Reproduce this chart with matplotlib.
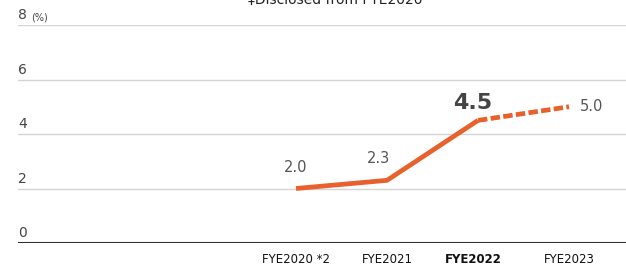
import matplotlib

matplotlib.use("Agg")

import matplotlib.pyplot as plt
import matplotlib.transforms as mtransforms

plt.rcParams["font.family"] = ["DejaVu Sans"]

years = ["FYE2020 *2", "FYE2021", "FYE2022", "FYE2023"]
values = [2.0, 2.3, 4.5, 5.0]
y_ticks = [0, 2, 4, 6, 8]

LINE_COLOR = "#E8602C"

fig = plt.figure(figsize=(6.26, 2.68), dpi=100)
ax = fig.add_axes([18 / 626, 25 / 268, 608 / 626, 218 / 268])
ax.set_xlim(-3.055, 3.626)
ax.set_ylim(0, 8)
ax.axis("off")

# gridlines, with the zero line drawn dark
for t in y_ticks:
    if t == 0:
        ax.axhline(t, color="#333333", linewidth=1.5, zorder=1)
    else:
        ax.axhline(t, color="#D4D4D4", linewidth=1.0, zorder=1)

trans = mtransforms.blended_transform_factory(ax.transAxes, ax.transData)
for t in y_ticks:
    ax.text(0.0, t + 0.1, str(t), transform=trans, ha="left", va="bottom",
            fontsize=10, color="#444444")
ax.text(0.022, 8.1, "(%)", transform=trans, ha="left", va="bottom",
        fontsize=7, color="#444444")

xs = list(range(len(years)))
# actual results solid, forecast dashed
ax.plot(xs[:3], values[:3], color=LINE_COLOR, linewidth=3.4,
        solid_capstyle="butt", solid_joinstyle="miter", zorder=3)
ax.plot(xs[2:], values[2:], color=LINE_COLOR, linewidth=3.4,
        linestyle=(0, (2.0, 0.7)), dash_capstyle="butt", zorder=3)

ax.annotate(f"{values[0]:.1f}", (xs[0], values[0]), textcoords="offset points",
            xytext=(0, 10), ha="center", va="bottom", fontsize=10.5, color="#555555")
ax.annotate(f"{values[1]:.1f}", (xs[1], values[1]), textcoords="offset points",
            xytext=(-6, 10), ha="center", va="bottom", fontsize=10.5, color="#555555")
ax.annotate(f"{values[2]:.1f}", (xs[2], values[2]), textcoords="offset points",
            xytext=(-4, 5), ha="center", va="bottom", fontsize=16,
            fontweight="bold", color="#444444")
ax.annotate(f"{values[3]:.1f}", (xs[3], values[3]), textcoords="offset points",
            xytext=(8, 0), ha="left", va="center", fontsize=10.5, color="#555555")

label_offsets = [0.0, 0.0, -0.05, 0.0]
for i, name in enumerate(years):
    ax.text(xs[i] + label_offsets[i], -0.62, name, ha="center", va="center",
            fontsize=8.5, color="#111111",
            fontweight="bold" if name == "FYE2022" else "normal")

fig.text(0.535, 1.0, "‡Disclosed from FYE2020", ha="center", va="center",
         fontsize=10, color="#222222")

fig.savefig("out.png", dpi=100)
